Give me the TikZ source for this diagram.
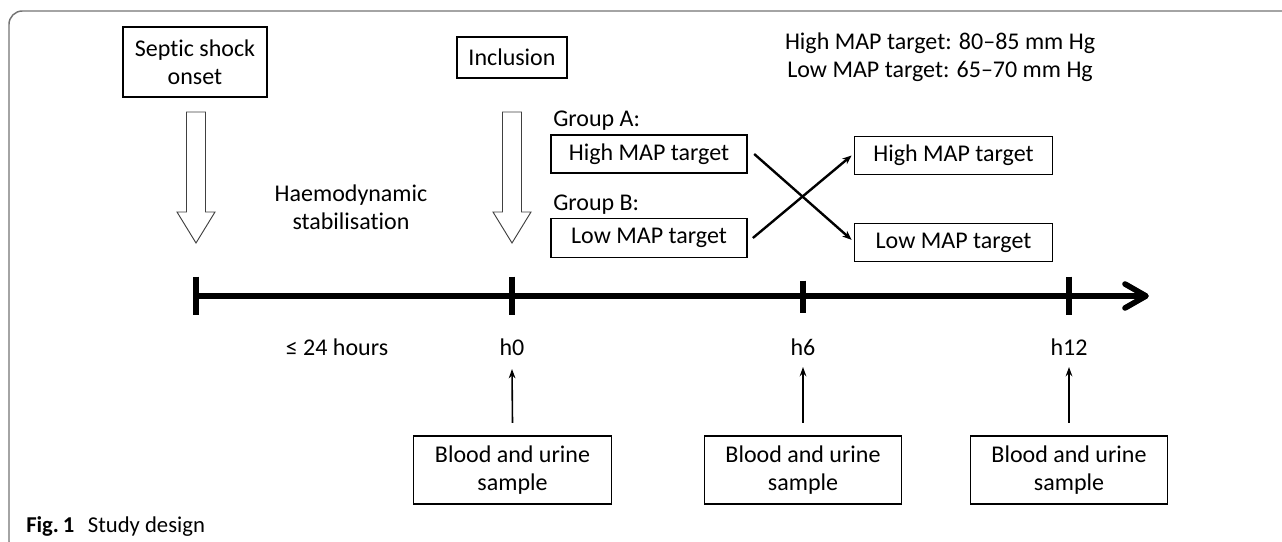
\documentclass[tikz,border=0pt]{standalone}
\usepackage{fontspec}
\setmainfont{Carlito}[RawFeature={-liga;-clig}]
\usetikzlibrary{arrows.meta}
\tikzset{
  mainfont/.style={font=\fontsize{18}{21}\selectfont},
  thickbox/.style={draw, line width=1.6pt, align=center, inner sep=0pt, mainfont},
  thinbox/.style={draw, line width=0.8pt, align=center, inner sep=0pt, mainfont},
  lbl/.style={align=center, inner sep=0pt, mainfont},
  hollow/.style={draw=black!75, line width=0.7pt, fill=white, line join=miter},
  tline/.style={line width=4.2pt},
  tickmark/.style={line width=4.6pt},
  smallarr/.style={line width=1.2pt, -{Stealth[length=7pt,width=5pt]}},
  crossarr/.style={line width=1.8pt, -{Stealth[length=7pt,width=5.5pt]}},
  frame/.style={draw=black!55, line width=1.1pt, rounded corners=10pt},
  hollowarrow/.pic={\draw[hollow] (-9.5,0) -- (-9.5,100) -- (-19,100) -- (0,131) -- (19,100) -- (9.5,100) -- (9.5,0) -- cycle;}
}
\begin{document}
\begin{tikzpicture}[x=0.75pt,y=-0.75pt]
\useasboundingbox (0,0) rectangle (1282,542);
\begin{scope}
\clip (0,0) rectangle (1282,542);
\draw[frame] (1300,11) -- (9,11) -- (9,555) -- (1300,555);
\end{scope}

% top boxes
\node[thickbox, minimum width=108pt, minimum height=52.5pt] (septic) at (195,62) {Septic shock\\onset};
\node[thickbox, minimum width=82.5pt, minimum height=31pt] (incl) at (512,57.5) {Inclusion};

% hollow arrows
\pic at (196,112) {hollowarrow};
\pic at (512,112) {hollowarrow};

\node[lbl] (haemo) at (351,207) {Haemodynamic\\stabilisation};

\node[lbl] (targets) at (940,57) {High MAP target: 80–85 mm Hg\\Low MAP target: 65–70 mm Hg};

% groups
\node[lbl, anchor=south west] (ga) at (553,131) {Group A:};
\node[lbl, anchor=south west] (gb) at (553,215) {Group B:};
\node[thinbox, minimum width=147pt, minimum height=28.5pt] (hiA) at (649,154) {High MAP target};
\node[thinbox, minimum width=147pt, minimum height=29pt] (loB) at (649,238) {Low MAP target};
\node[thinbox, minimum width=148pt, minimum height=29pt] (hiR) at (953.5,155.5) {High MAP target};
\node[thinbox, minimum width=148pt, minimum height=29pt] (loR) at (953.5,242.5) {Low MAP target};

\draw[crossarr] ([xshift=5pt]hiA.east) -- ([xshift=-2pt,yshift=2pt]loR.west);
\draw[crossarr] ([xshift=4pt]loB.east) -- ([xshift=-2pt]hiR.west);

% timeline
\coordinate (t0) at (196,296);
\coordinate (tend) at (1146,296);
\coordinate (th0) at (512,296);
\coordinate (th6) at (803,296);
\coordinate (th12) at (1069,296);
\draw[tline] (t0) -- (tend);
\draw[tline, line cap=round, line join=round] ([shift={(-21,-12)}]tend) -- (tend) -- ([shift={(-21,12)}]tend);
\draw[tickmark] ([yshift=14.5pt]t0) -- ([yshift=-14.5pt]t0);
\draw[tickmark] ([yshift=14.5pt]th0) -- ([yshift=-14.5pt]th0);
\draw[tickmark] ([yshift=11.5pt]th6) -- ([yshift=-12.5pt]th6);
\draw[tickmark] ([yshift=14.5pt]th12) -- ([yshift=-14.5pt]th12);

% labels
\node[lbl] (hours) at (337,347) {≤ 24 hours};
\node[lbl] (lh0) at (512,347) {h0};
\node[lbl] (lh6) at (803,347) {h6};
\node[lbl] (lh12) at (1069,347) {h12};

% sample boxes
\node[thinbox, minimum width=148pt, minimum height=51pt] (b0) at (512.5,470) {Blood and urine\\sample};
\node[thinbox, minimum width=148pt, minimum height=51pt] (b6) at (803,470) {Blood and urine\\sample};
\node[thinbox, minimum width=148pt, minimum height=51pt] (b12) at (1069,470) {Blood and urine\\sample};

\coordinate (a0) at (512,369);
\coordinate (a6) at (803,367);
\coordinate (a12) at (1069,367);
\draw[smallarr] ([yshift=9.5pt]b0.north) -- (a0);
\draw[smallarr] ([yshift=9.5pt]b6.north) -- (a6);
\draw[smallarr] ([yshift=9.5pt]b12.north) -- (a12);

% caption
\node[anchor=base west, inner sep=0pt, font=\fontsize{17}{20}\selectfont] (cap) at (26,532) {\textbf{Fig.\,1}\hspace{0.6em}Study design};
\end{tikzpicture}
\end{document}
